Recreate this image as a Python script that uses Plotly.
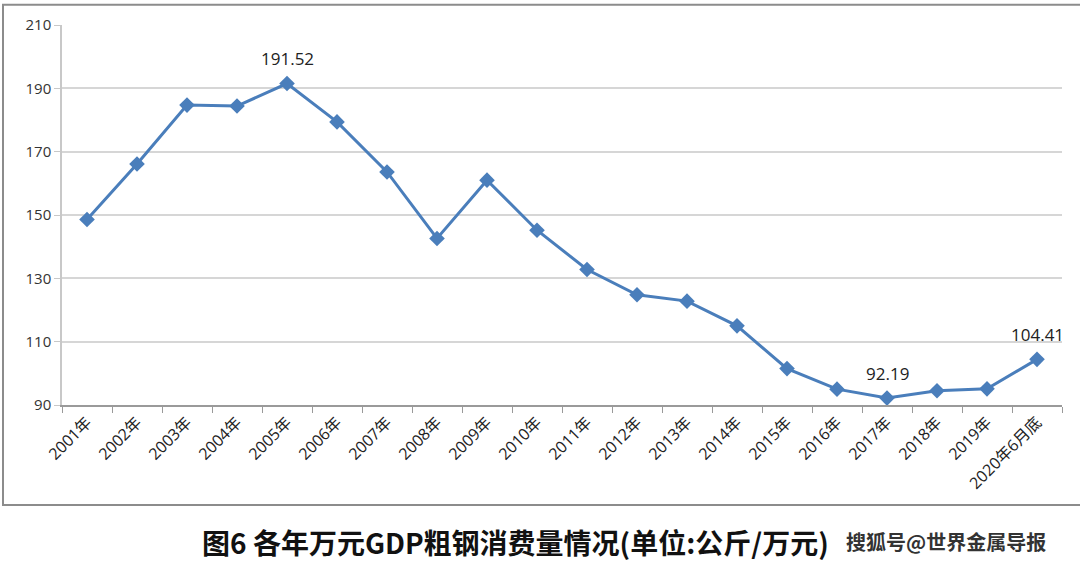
import plotly.graph_objects as go

# categories and values (kg per 10k yuan GDP)
years = ["2001年", "2002年", "2003年", "2004年", "2005年", "2006年", "2007年",
         "2008年", "2009年", "2010年", "2011年", "2012年", "2013年", "2014年",
         "2015年", "2016年", "2017年", "2018年", "2019年", "2020年6月底"]
steel_use = [148.6, 166.1, 184.7, 184.4, 191.52, 179.4, 163.6, 142.6, 161.0, 145.2,
             132.8, 124.8, 122.8, 115.0, 101.5, 95.0, 92.19, 94.5, 95.1, 104.41]
labelled = ["2005年", "2017年", "2020年6月底"]
y_ticks = [90, 110, 130, 150, 170, 190, 210]

font_main = "Open Sans, Noto Sans CJK SC, sans-serif"

fig = go.Figure()
fig.add_trace(go.Scatter(
    x=years, y=steel_use, mode="lines+markers",
    line=dict(color="#4a7ebb", width=3),
    marker=dict(symbol="diamond", size=12, color="#4a7ebb"),
    showlegend=False, hoverinfo="x+y"
))

# data labels on selected points
for yr, v in zip(years, steel_use):
    if yr in labelled:
        fig.add_annotation(x=yr, y=v, text=f"{v:.2f}", showarrow=False,
                           yshift=25, font=dict(size=17, color="#222", family=font_main))

fig.update_xaxes(
    type="category", showgrid=False, showline=True, linecolor="#9a9a9a", linewidth=1.5,
    ticks="outside", tickson="boundaries", ticklen=6, tickcolor="#9a9a9a",
    tickangle=-45, tickfont=dict(size=16, color="#222", family=font_main),
    range=[-0.5, len(years) - 0.5]
)
fig.update_yaxes(
    range=[90, 210], tickvals=y_ticks, showgrid=True, gridcolor="#d6d6d6", gridwidth=1.5,
    showline=True, linecolor="#c8c8c8", linewidth=1.5, zeroline=False,
    ticks="outside", ticklen=6, tickcolor="#c8c8c8",
    tickfont=dict(size=15, color="#333", family=font_main)
)

# outer chart frame
fig.add_shape(type="rect", xref="paper", yref="paper",
              x0=-0.059, x1=1.03, y0=-0.263, y1=1.053,
              line=dict(color="#8c8c8c", width=2))

# caption and watermark
fig.add_annotation(xref="paper", yref="paper", x=0.138, y=-0.36, xanchor="left",
                   yanchor="middle", showarrow=False,
                   text="<b>图6 各年万元GDP粗钢消费量情况(单位:公斤/万元)</b>",
                   font=dict(size=28, color="#111", family="Noto Sans CJK SC"))
fig.add_annotation(xref="paper", yref="paper", x=0.782, y=-0.36, xanchor="left",
                   yanchor="middle", showarrow=False,
                   text="<b>搜狐号@世界金属导报</b>",
                   font=dict(size=20, color="#333", family="Noto Sans CJK SC"))

fig.update_layout(
    width=1080, height=567,
    margin=dict(l=62, r=18, t=25, b=162),
    paper_bgcolor="white", plot_bgcolor="white",
    font=dict(family=font_main)
)

fig.write_html("out.html", config={"displayModeBar": False},
               post_script="document.body.style.margin='0';")
